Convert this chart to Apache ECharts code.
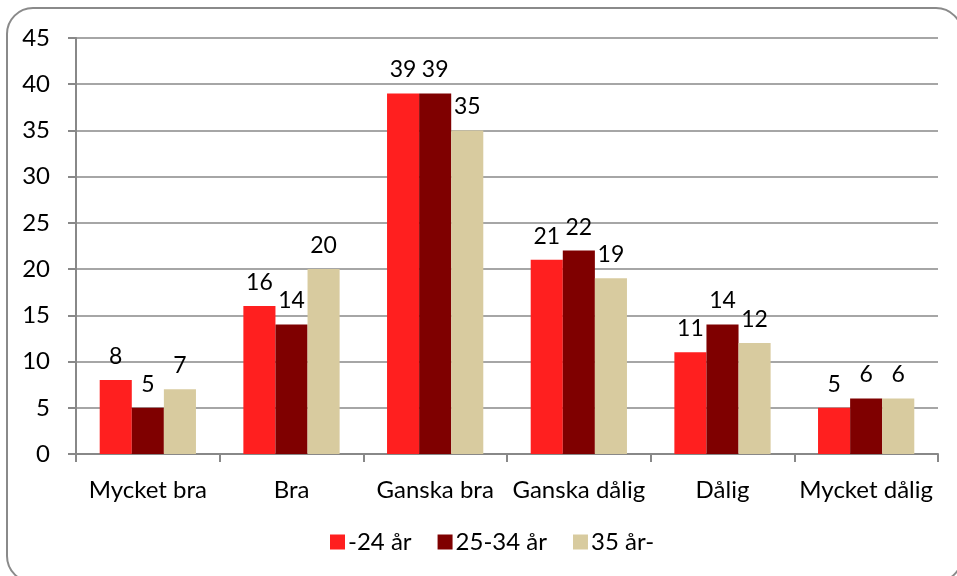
<!DOCTYPE html>
<html>
<head>
<meta charset="utf-8">
<script src="https://cdn.jsdelivr.net/npm/echarts@6/dist/echarts.min.js"></script>
<style>
  html, body { margin: 0; padding: 0; background: #fff; }
  #chart { width: 957px; height: 576px; }
</style>
</head>
<body>
<div id="chart"></div>
<script>
const categories = ["Mycket bra", "Bra", "Ganska bra", "Ganska dålig", "Dålig", "Mycket dålig"];
const seriesNames = ["-24 år", "25-34 år", "35 år-"];
const young = [8, 16, 39, 21, 11, 5];
const middle = [5, 14, 39, 22, 14, 6];
const older = [7, 20, 35, 19, 12, 6];
const colors = ["#FF1F1F", "#7F0000", "#D8CB9F"];

const font = "Lato, 'Open Sans', sans-serif";
const fs = 24;

const chart = echarts.init(document.getElementById("chart"));

function bar(name, data, color) {
  return {
    name: name,
    type: "bar",
    data: data,
    barGap: "0%",
    barCategoryGap: "33%",
    itemStyle: { color: color },
    label: {
      show: true,
      position: "top",
      distance: 12,
      color: "#000",
      fontSize: 23,
      fontFamily: font,
    },
  };
}

chart.setOption({
  animation: false,
  graphic: [
    {
      type: "rect",
      shape: { x: 7, y: 8, width: 955, height: 574, r: 26 },
      style: { fill: "none", stroke: "#8a8a8a", lineWidth: 2 },
      z: -1,
    },
  ],
  grid: { left: 76, right: 19, top: 38, bottom: 122 },
  legend: {
    bottom: 17,
    left: 325,
    itemWidth: 15,
    itemHeight: 15,
    itemGap: 26,
    icon: "rect",
    textStyle: { fontSize: fs, fontFamily: font, color: "#000", padding: [0, 0, 0, -2] },
    data: seriesNames,
  },
  xAxis: {
    type: "category",
    data: categories,
    axisLine: { lineStyle: { color: "#888", width: 2 } },
    axisTick: { show: true, length: 8, lineStyle: { color: "#888", width: 2 } },
    axisLabel: { fontSize: fs, fontFamily: font, color: "#000", margin: 24, interval: 0 },
  },
  yAxis: {
    type: "value",
    min: 0,
    max: 45,
    interval: 5,
    axisLine: { show: true, lineStyle: { color: "#888", width: 2 } },
    axisTick: { show: true, length: 8, lineStyle: { color: "#888", width: 2 } },
    splitLine: { lineStyle: { color: "#888", width: 1.5 } },
    axisLabel: { fontSize: fs, fontFamily: font, color: "#000", margin: 26 },
  },
  series: [
    bar(seriesNames[0], young, colors[0]),
    bar(seriesNames[1], middle, colors[1]),
    bar(seriesNames[2], older, colors[2]),
  ],
});
</script>
</body>
</html>
